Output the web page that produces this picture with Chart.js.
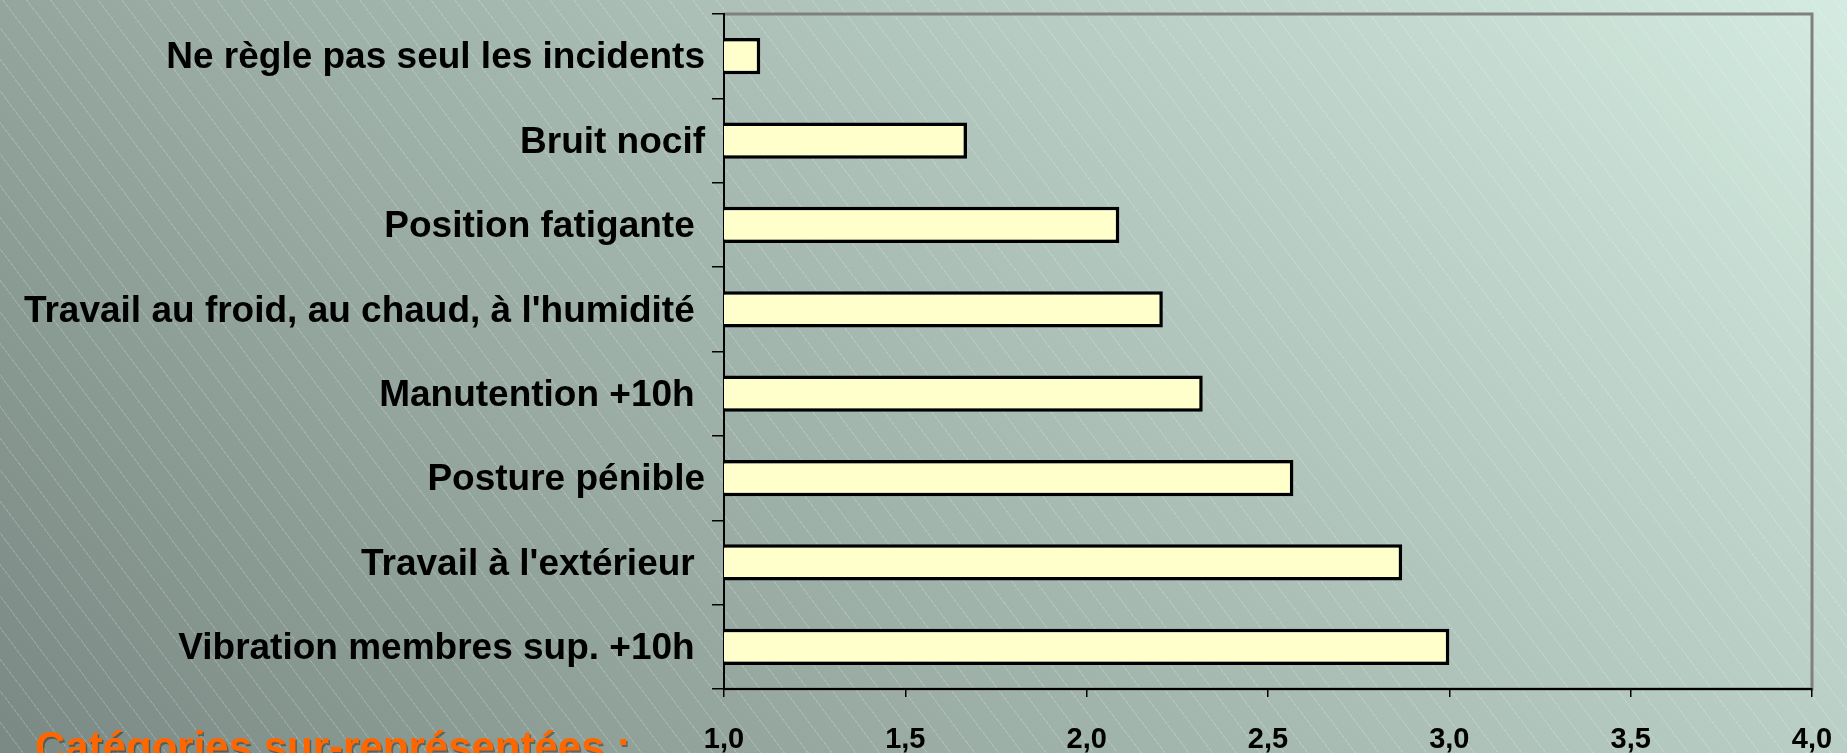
<!DOCTYPE html>
<html>
<head>
<meta charset="utf-8">
<script src="https://cdn.jsdelivr.net/npm/chart.js@4"></script>
<style>
  html, body { margin: 0; padding: 0; }
  body {
    width: 1847px;
    height: 753px;
    overflow: hidden;
    background:
      repeating-linear-gradient(53deg,
        rgba(255,255,255,0) 0px, rgba(255,255,255,0) 18px,
        rgba(255,255,255,0.18) 18px, rgba(255,255,255,0.18) 19px),
      linear-gradient(45deg, #7a8983, #d3ebe0);
  }
</style>
</head>
<body>
<canvas id="chart" width="1847" height="753"></canvas>
<script>
// catégories, du haut vers le bas
const categories = [
  "Ne règle pas seul les incidents",
  "Bruit nocif",
  "Position fatigante ",
  "Travail au froid, au chaud, à l'humidité ",
  "Manutention +10h ",
  "Posture pénible",
  "Travail à l'extérieur ",
  "Vibration membres sup. +10h "
];
const ratios = [1.1, 1.67, 2.09, 2.21, 2.32, 2.57, 2.87, 3.0];
const xTicks = [1.0, 1.5, 2.0, 2.5, 3.0, 3.5, 4.0];
const footNote = "Catégories sur-représentées :";

const FONT = "'Liberation Sans', Arial, sans-serif";

// cadre gris en haut et à droite de la zone de tracé
const frame = {
  id: "frame",
  beforeDraw(chart) {
    const { ctx, chartArea: a } = chart;
    ctx.save();
    ctx.strokeStyle = "#808080";
    ctx.lineWidth = 3;
    ctx.beginPath();
    ctx.moveTo(a.left, a.top);
    ctx.lineTo(a.right, a.top);
    ctx.lineTo(a.right, a.bottom);
    ctx.lineTo(a.left, a.bottom);
    ctx.stroke();
    ctx.restore();
  }
};

// texte orange en bas à gauche
const note = {
  id: "note",
  afterDraw(chart) {
    const ctx = chart.ctx;
    ctx.save();
    ctx.font = "bold 42px " + FONT;
    ctx.fillStyle = "#ff6600";
    ctx.shadowColor = "rgba(0,0,0,0.35)";
    ctx.shadowOffsetX = 1.5;
    ctx.shadowOffsetY = 1.5;
    ctx.textBaseline = "alphabetic";
    ctx.fillText(footNote, 35, 761);
    ctx.restore();
  }
};

new Chart(document.getElementById("chart"), {
  type: "bar",
  data: {
    labels: categories,
    datasets: [{
      data: ratios,
      backgroundColor: "#ffffcc",
      borderColor: "#000000",
      borderWidth: 3.5,
      borderSkipped: false,
      categoryPercentage: 1,
      barPercentage: 0.43
    }]
  },
  options: {
    indexAxis: "y",
    responsive: false,
    animation: false,
    layout: { padding: { top: 14, right: 35, left: 0, bottom: 0 } },
    plugins: {
      legend: { display: false },
      tooltip: { enabled: false }
    },
    scales: {
      x: {
        min: 1,
        max: 4,
        afterBuildTicks: s => { s.ticks = xTicks.map(v => ({ value: v })); },
        afterFit: s => { s.height = 64; s.paddingLeft = 0; s.paddingRight = 0; },
        grid: { drawOnChartArea: false, tickLength: 8, tickColor: "#000", lineWidth: 1.5 },
        border: { color: "#000", width: 2 },
        ticks: {
          padding: 26,
          color: "#000",
          font: { family: FONT, size: 29, weight: "bold" },
          callback: v => v.toFixed(1).replace(".", ",")
        }
      },
      y: {
        afterFit: s => { s.width = 724; s.paddingTop = 0; s.paddingBottom = 0; },
        grid: { drawOnChartArea: false, offset: true, tickLength: 12, tickColor: "#000", lineWidth: 1.5 },
        border: { color: "#000", width: 2 },
        ticks: {
          padding: 7,
          labelOffset: 2,
          color: "#000",
          font: { family: FONT, size: 37, weight: "bold" }
        }
      }
    }
  },
  plugins: [frame, note]
});
</script>
</body>
</html>
